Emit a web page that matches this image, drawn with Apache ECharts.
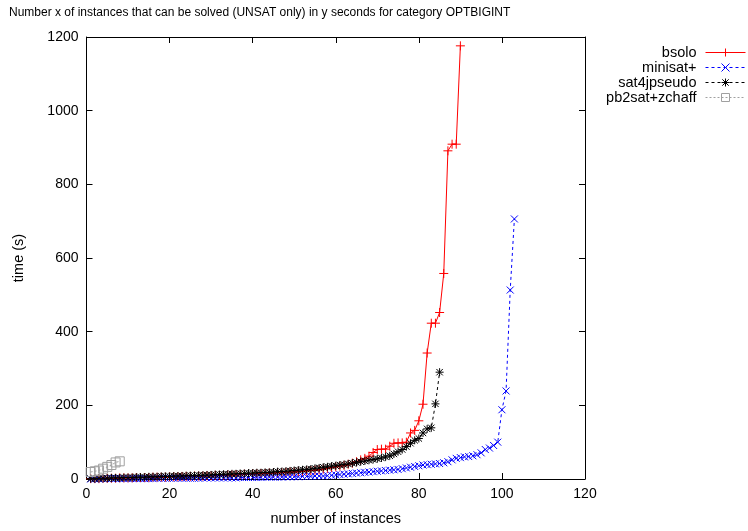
<!DOCTYPE html>
<html>
<head>
<meta charset="utf-8">
<script src="https://cdn.jsdelivr.net/npm/echarts@6/dist/echarts.min.js"></script>
<style>
  html, body { margin: 0; padding: 0; background: #fff; }
  #chart { width: 748px; height: 531px; }
</style>
</head>
<body>
<div id="chart"></div>
<script>
// Solving times (s) of each solver, sorted ascending; x = number of instances solved
const bsoloTimes = [
  1, 1, 1, 2, 2, 2, 2, 3, 3, 3,
  3, 4, 4, 4, 4, 5, 5, 5, 5, 6,
  6, 6, 7, 7, 7, 8, 8, 8, 9, 9,
  10, 10, 10, 11, 11, 12, 12, 13, 13, 14,
  14, 15, 15, 16, 16, 17, 17, 18, 19, 19,
  20, 21, 22, 23, 24, 25, 27, 29, 31, 33,
  35, 37, 40, 43, 47, 52, 56, 62, 72, 80,
  81, 81, 89, 97, 98, 98, 100, 125, 132, 158,
  203, 342, 423, 423, 452, 558, 891, 909, 909, 1176
];
const minisatTimes = [
  0, 0, 0, 1, 1, 1, 1, 1, 1, 1,
  1, 1, 1, 1, 1, 1, 2, 2, 2, 2,
  2, 2, 2, 2, 2, 2, 2, 3, 3, 3,
  3, 3, 3, 3, 3, 3, 4, 4, 4, 4,
  4, 4, 5, 5, 5, 5, 5, 6, 6, 6,
  6, 7, 7, 7, 8, 8, 8, 9, 10, 11,
  12, 13, 14, 15, 16, 17, 18, 19, 20, 21,
  22, 23, 24, 25, 26, 28, 30, 32, 34, 36,
  38, 39, 40, 41, 42, 44, 47, 52, 56, 58,
  60, 61, 63, 66, 71, 80, 84, 91, 100, 188,
  239, 513, 706
];
const sat4jTimes = [
  1, 1, 2, 2, 2, 3, 3, 3, 4, 4,
  4, 5, 5, 5, 6, 6, 6, 7, 7, 7,
  8, 8, 8, 9, 9, 9, 10, 10, 11, 11,
  12, 12, 13, 13, 14, 14, 15, 15, 16, 16,
  17, 17, 18, 18, 19, 20, 20, 21, 22, 23,
  24, 25, 26, 27, 29, 30, 32, 33, 35, 36,
  38, 39, 41, 43, 45, 47, 49, 51, 53, 55,
  57, 60, 63, 68, 74, 80, 88, 97, 105, 110,
  125, 136, 139, 204, 290
];
const pb2satTimes = [19, 21, 23, 28, 33, 38, 45, 48];

const xTicks = { min: 0, max: 120, step: 20 };
const yTicks = { min: 0, max: 1200, step: 200 };

const solvers = [
  { name: 'bsolo', times: bsoloTimes },
  { name: 'minisat+', times: minisatTimes },
  { name: 'sat4jpseudo', times: sat4jTimes },
  { name: 'pb2sat+zchaff', times: pb2satTimes }
];

// gnuplot-like point types
const PLUS = 'path://M0,5L10,5M5,0L5,10';
const CROSS = 'path://M0,0L10,10M10,0L0,10';
const STAR = 'path://M0,5L10,5M5,0L5,10M1,1L9,9M9,1L1,9';
const BOX = 'path://M0,0L10,0L10,10L0,10Z';

const looks = {
  'bsolo': { color: '#ff0000', symbol: PLUS, size: 9, dash: 'solid' },
  'minisat+': { color: '#0000ff', symbol: CROSS, size: 7, dash: [3, 3] },
  'sat4jpseudo': { color: '#000000', symbol: STAR, size: 8, dash: [3, 3] },
  'pb2sat+zchaff': { color: '#a0a0a0', symbol: BOX, size: 9, dash: [2, 2] }
};

const FONT = 'Liberation Sans, Arial, sans-serif';

const series = solvers.map(s => {
  const lk = looks[s.name];
  return {
    name: s.name,
    type: 'line',
    data: s.times.map((t, i) => [i + 1, t]),
    symbol: lk.symbol,
    symbolSize: lk.size,
    showAllSymbol: true,
    animation: false,
    lineStyle: { color: lk.color, width: 1, type: lk.dash },
    itemStyle: { color: 'rgba(0,0,0,0)', borderColor: lk.color, borderWidth: 1 }
  };
});

const tickStyle = { show: true, inside: true, length: 6, lineStyle: { color: '#000', width: 1 } };
const lineAxis = { show: true, onZero: false, lineStyle: { color: '#000', width: 1 } };
const labelStyle = { fontFamily: FONT, fontSize: 14, color: '#000', margin: 8, formatter: v => String(v) };
const nameStyle = { fontFamily: FONT, fontSize: 14.5, color: '#000' };

const chart = echarts.init(document.getElementById('chart'), null, { renderer: 'canvas' });
chart.setOption({
  backgroundColor: '#ffffff',
  animation: false,
  title: {
    text: 'Number x of instances that can be solved (UNSAT only) in y seconds for category OPTBIGINT',
    left: 9, top: 7, padding: 0,
    textStyle: { fontFamily: FONT, fontSize: 12, fontWeight: 'normal', color: '#000' }
  },
  legend: {
    orient: 'vertical',
    right: 2, top: 45, padding: 0,
    align: 'right',
    itemWidth: 40, itemHeight: 10, itemGap: 0,
    lineStyle: { width: 1 },
    itemStyle: { borderWidth: 1 },
    textStyle: { fontFamily: FONT, fontSize: 14.5, color: '#000', lineHeight: 14.5, padding: [0, 4, 0, 0] },
    data: solvers.map(s => s.name)
  },
  grid: { left: 86.5, right: 163, top: 37, bottom: 48, containLabel: false },
  xAxis: [
    {
      type: 'value', min: xTicks.min, max: xTicks.max, interval: xTicks.step,
      position: 'bottom',
      name: 'number of instances', nameLocation: 'middle', nameGap: 32,
      nameTextStyle: nameStyle,
      axisLine: lineAxis, axisTick: tickStyle,
      axisLabel: labelStyle,
      splitLine: { show: false }
    },
    {
      type: 'value', min: xTicks.min, max: xTicks.max, interval: xTicks.step,
      position: 'top',
      axisLine: lineAxis, axisTick: tickStyle,
      axisLabel: { show: false }, splitLine: { show: false }
    }
  ],
  yAxis: [
    {
      type: 'value', min: yTicks.min, max: yTicks.max, interval: yTicks.step,
      position: 'left',
      name: 'time (s)', nameLocation: 'middle', nameGap: 60,
      nameTextStyle: nameStyle,
      axisLine: lineAxis, axisTick: tickStyle,
      axisLabel: labelStyle,
      splitLine: { show: false }
    },
    {
      type: 'value', min: yTicks.min, max: yTicks.max, interval: yTicks.step,
      position: 'right',
      axisLine: lineAxis, axisTick: tickStyle,
      axisLabel: { show: false }, splitLine: { show: false }
    }
  ],
  series: series
});
</script>
</body>
</html>
